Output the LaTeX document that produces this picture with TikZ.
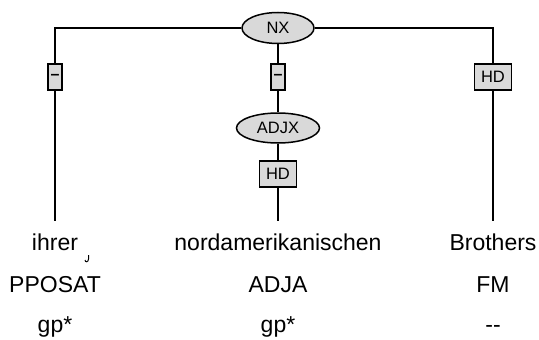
\documentclass[tikz,border=0pt]{standalone}
\usepackage{fontspec}
\setmainfont{Liberation Sans}
\usetikzlibrary{shapes.geometric}
\definecolor{nodegray}{RGB}{217,217,217}
\tikzset{
  catnode/.style={ellipse,draw=black,line width=1.5pt,fill=nodegray,inner sep=0pt,
    font=\fontsize{16.5}{18}\selectfont},
  edgebox/.style={rectangle,draw=black,line width=1.5pt,fill=nodegray,inner sep=0pt,
    minimum height=26pt,font=\fontsize{16.5}{18}\selectfont},
  dashlabel/.style={font=\bfseries\fontsize{16}{18}\selectfont},
  wordtxt/.style={anchor=base,inner sep=0pt,font=\fontsize{23}{27}\selectfont},
  edge/.style={line width=1.5pt,draw=black},
}
\begin{document}
\begin{tikzpicture}[x=1pt,y=-1pt]
\useasboundingbox (0,0) rectangle (539,340);
% nodes
\node[catnode,minimum width=72pt,minimum height=31pt] (nx) at (278,28) {NX};
\node[catnode,minimum width=83pt,minimum height=30pt] (adjx) at (278,128) {ADJX};
\node[edgebox,dashlabel,minimum width=14pt] (d1) at (55,77) {–};
\node[edgebox,dashlabel,minimum width=14pt] (d2) at (278,77) {–};
\node[edgebox,minimum width=37pt] (hd1) at (493,77) {HD};
\node[edgebox,minimum width=37pt] (hd2) at (278,174) {HD};
\coordinate (c1) at (55,28);
\coordinate (c3) at (493,28);
\coordinate (e1) at (55,221);
\coordinate (e2) at (278,221);
\coordinate (e3) at (493,221);
% connectors
\draw[edge] (nx) -- (c1) -- (d1) -- (e1);
\draw[edge] (nx) -- (c3) -- (hd1) -- (e3);
\draw[edge] (nx) -- (d2) -- (adjx) -- (hd2) -- (e2);
% words
\node[wordtxt] (w1) at (55,250) {ihrer};
\node[wordtxt] (w2) at (278,250) {nordamerikanischen};
\node[wordtxt] (w3) at (493,250) {Brothers};
\node[wordtxt] (t1) at (55,292) {PPOSAT};
\node[wordtxt] (t2) at (278,292) {ADJA};
\node[wordtxt] (t3) at (493,292) {FM};
\node[wordtxt] (g1) at (55,332) {gp*};
\node[wordtxt] (g2) at (278,332) {gp*};
\node[wordtxt] (g3) at (493,332) {-{}-};
% small hook mark
\draw[line width=1pt] (88.5,255) -- (88.5,259) .. controls (88.5,262.5) and (85,262.5) .. (85,260);
\end{tikzpicture}
\end{document}
